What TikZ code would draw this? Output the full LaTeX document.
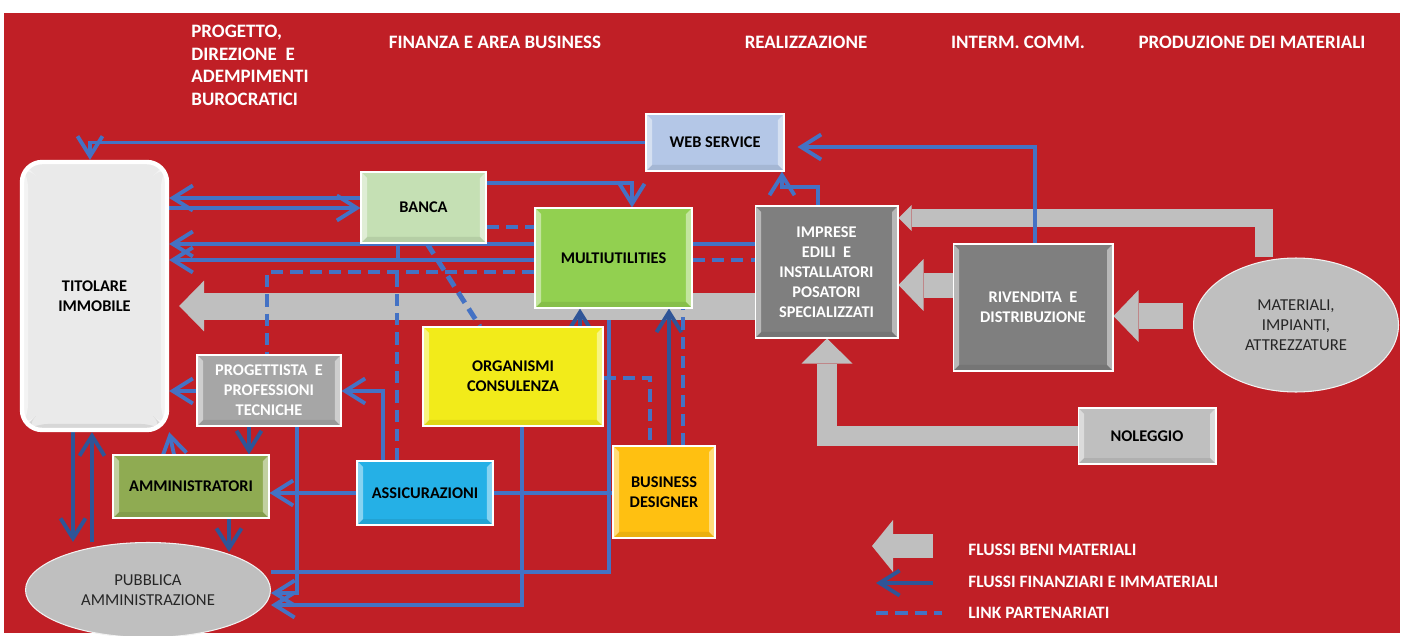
\documentclass[tikz,border=0pt]{standalone}
\usepackage{fontspec}
\setmainfont{Carlito}
\usetikzlibrary{arrows.meta, calc, shapes.geometric}
\usepackage{xcolor}

\definecolor{bgred}{RGB}{192,31,38}
\definecolor{flow}{RGB}{68,114,196}
\definecolor{flowdk}{RGB}{47,85,151}
\definecolor{beni}{RGB}{191,191,191}
\definecolor{txtgray}{RGB}{38,38,38}
\definecolor{cweb}{RGB}{180,199,231}
\definecolor{cbanca}{RGB}{197,224,180}
\definecolor{cmulti}{RGB}{146,208,80}
\definecolor{cimpr}{RGB}{127,127,127}
\definecolor{cprog}{RGB}{166,166,166}
\definecolor{corg}{RGB}{242,235,26}
\definecolor{camm}{RGB}{143,171,82}
\definecolor{cass}{RGB}{37,176,230}
\definecolor{cbus}{RGB}{255,192,17}
\definecolor{ctit}{RGB}{234,234,234}

\pgfdeclarelayer{bg}
\pgfdeclarelayer{back}
\pgfsetlayers{bg,back,main}

\tikzset{
  bevel/.style={path picture={
    \fill[white,opacity=.45] (path picture bounding box.north west) -- ++(6,6)
      -- ($(path picture bounding box.south west)+(6,-6)$) -- (path picture bounding box.south west) -- cycle;
    \fill[white,opacity=.45] (path picture bounding box.north east) -- ++(-6,6)
      -- ($(path picture bounding box.south east)+(-6,-6)$) -- (path picture bounding box.south east) -- cycle;
    \fill[black,opacity=.08] (path picture bounding box.south west) -- ++(6,-6)
      -- ($(path picture bounding box.south east)+(-6,-6)$) -- (path picture bounding box.south east) -- cycle;
  }}
}

\begin{document}
\begin{tikzpicture}[
  x={(0.02cm,0)}, y={(0,-0.02cm)},
  box/.style   = {draw=white!70, line width=0.6pt, inner sep=2pt, align=center,
                  text=black, font=\fontsize{9.3}{11.4}\selectfont\bfseries, bevel},
  oval/.style  = {ellipse, draw=white!80!beni, line width=0.6pt, fill=beni, inner sep=0pt,
                  align=center, text=txtgray, font=\fontsize{9.5}{11.4}\selectfont},
  hdr/.style   = {text=white, inner sep=0pt, font=\fontsize{10.8}{12.8}\selectfont\bfseries},
  lgd/.style   = {text=white, inner sep=0pt, anchor=west, font=\fontsize{9.9}{12}\selectfont\bfseries},
  fin/.style   = {draw=flow, line width=2.2pt},
  arr/.style   = {fin, -{Straight Barb[length=0.4cm, width=0.5cm]}},
  arrd/.style  = {arr, draw=flowdk},
  link/.style  = {draw=flow, line width=2.8pt, dash pattern=on 7pt off 4pt},
  bene/.style n args = {3}{draw=beni, line width=#1,
                  -{Triangle[length=#2, width=#3, line width=0pt]}},
]
\useasboundingbox (0,0) rectangle (1405,635);
\begin{pgfonlayer}{bg}
  \fill[bgred] (4,13) rectangle (1400,633);
\end{pgfonlayer}

% ── Column headers ───────────────────────────────────────────────────────────
\node[hdr, anchor=north west, align=left] (hprog) at (191,25)
  {PROGETTO,\\DIREZIONE\ \ E\\ADEMPIMENTI\\BUROCRATICI};
\node[hdr] (hfin)  at (495,42)  {FINANZA E AREA BUSINESS};
\node[hdr] (hreal) at (806,42)  {REALIZZAZIONE};
\node[hdr] (hint)  at (1018,42) {INTERM. COMM.};
\node[hdr] (hprod) at (1252,42) {PRODUZIONE DEI MATERIALI};

% ── Actors ───────────────────────────────────────────────────────────────────
\node[box, fill=ctit, draw=white, line width=2.5pt, rounded corners=0.4cm,
      minimum width=2.9cm, minimum height=5.36cm] (titolare) at (94.5,296) {TITOLARE\\IMMOBILE};
\node[box, fill=cweb,   minimum width=2.76cm, minimum height=1.14cm] (webserv)  at (715,142.5)  {WEB SERVICE};
\node[box, fill=cbanca, minimum width=2.5cm,  minimum height=1.42cm] (banca)    at (423.5,207.5){BANCA};
\node[box, fill=cmulti, minimum width=3.14cm, minimum height=2cm]    (multi)    at (613.5,258)  {MULTIUTILITIES};
\node[box, fill=cimpr, text=white, minimum width=2.86cm, minimum height=2.64cm] (imprese) at (826.5,272)
  {IMPRESE\\EDILI\ \ E\\INSTALLATORI\\POSATORI\\SPECIALIZZATI};
\node[box, fill=cimpr, text=white, minimum width=3.2cm, minimum height=2.54cm] (rivendita) at (1033,307.5)
  {RIVENDITA\ \ E\\DISTRIBUZIONE};
\node[oval, minimum width=4.1cm, minimum height=2.68cm] (materiali) at (1296,325)
  {MATERIALI,\\IMPIANTI,\\ATTREZZATURE};
\node[box, fill=beni, minimum width=2.76cm, minimum height=1.12cm] (noleggio) at (1147,436) {NOLEGGIO};
\node[box, fill=cprog, text=white, minimum width=2.88cm, minimum height=1.42cm] (progettista) at (269,390.5)
  {PROGETTISTA\ \ E\\PROFESSIONI\\TECNICHE};
\node[box, fill=corg, minimum width=3.6cm,  minimum height=1.98cm] (organismi) at (513,376.5) {ORGANISMI\\CONSULENZA};
\node[box, fill=camm, minimum width=3.12cm, minimum height=1.26cm] (amministratori) at (191,486.5) {AMMINISTRATORI};
\node[box, fill=cass, minimum width=2.72cm, minimum height=1.28cm] (assicurazioni) at (425,493) {ASSICURAZIONI};
\node[box, fill=cbus, minimum width=2.04cm, minimum height=1.84cm] (business) at (664,492) {BUSINESS\\DESIGNER};
\node[oval, minimum width=4.9cm, minimum height=1.9cm] (pubblica) at (148,590) {PUBBLICA\\AMMINISTRAZIONE};

% ── Legend ───────────────────────────────────────────────────────────────────
\coordinate (lb1) at (933,546);  \coordinate (lb2) at (872,546);
\coordinate (lf1) at (933,583);  \coordinate (lf2) at (876,583);
\coordinate (ll1) at (876,613);  \coordinate (ll2) at (942,613);
\node[lgd] (tbeni) at (968,550) {FLUSSI BENI MATERIALI};
\node[lgd] (tfin)  at (968,582) {FLUSSI FINANZIARI E IMMATERIALI};
\node[lgd] (tlink) at (968,613) {LINK PARTENARIATI};

\begin{pgfonlayer}{back}
% ── Material flows (grey) ────────────────────────────────────────────────────
\draw[fin] (multi.south -| 609,0) |- (pubblica.east |- 0,572);
\draw[bene={0.54cm}{0.5cm}{1.02cm}, shorten >=0.2cm] (imprese.west |- 0,306) -- (titolare.east |- 0,306);
\draw[bene={0.37cm}{0.26cm}{0.52cm}] (materiali.north -| 1264,0) |- (imprese.east |- 0,218);
\draw[bene={0.5cm}{0.5cm}{1.04cm}] (rivendita.west |- 0,285) -- (imprese.east |- 0,285);
\draw[bene={0.52cm}{0.5cm}{1.04cm}, shorten <=0.2cm] (materiali.west |- 0,316) -- (rivendita.east |- 0,316);
\draw[bene={0.4cm}{0.5cm}{1.02cm}] (noleggio.west) -| (imprese.south -| 827,0);
\draw[bene={0.48cm}{0.42cm}{1.04cm}] (lb1) -- (lb2);

% ── Financial / immaterial flows ─────────────────────────────────────────────
\draw[arr] (webserv.west) -| (titolare.north -| 90,0);
\draw[arr] (rivendita.north -| 1035,0) |- ($(webserv.east)+(13,4.5)$);
\draw[arr] (imprese.north -| 818,0) |- (782,187) -- (webserv.south -| 782,0);
\draw[arr] (banca.west |- 0,198) -- (titolare.east |- 0,198);
\draw[arr] (titolare.east |- 0,208) -- (banca.west |- 0,208);
\draw[arr] (banca.east |- 0,183) -| (multi.north -| 632,0);
\draw[arr] (imprese.west |- 0,244) -- (titolare.east |- 0,244);
\draw[arr] (multi.west |- 0,260) -- (titolare.east |- 0,260);
\draw[fin] (banca.south -| 398,0) -- (398,260);
\draw[arrd] (organismi.north -| 580,0) -- (multi.south -| 580,0);
\draw[arrd] (business.north -| 669,0) -- (multi.south -| 669,0);
\draw[fin] (business.west |- 0,493) -- (assicurazioni.east);
\draw[arr] (assicurazioni.west) -- (amministratori.east |- assicurazioni.west);
\draw[arr] (organismi.south -| 522,0) |- (pubblica.east |- 0,605);
\draw[arr] (assicurazioni.north -| 383,0) |- (progettista.east |- 0,391);
\draw[arr] (progettista.west |- 0,391) -- (titolare.east |- 0,391);
\draw[arrd] (progettista.south -| 249,0) -- (amministratori.north -| 249,0);
\draw[arr] (amministratori.north -| 174,0) -- (titolare.south east);
\draw[arr] (progettista.south -| 297,0) |- (pubblica.east |- 0,593);
\draw[arrd] (titolare.south -| 73,0) -- (pubblica.north -| 73,0);
\draw[arrd] (pubblica.north -| 92,0) -- (titolare.south -| 92,0);
\draw[arrd] (amministratori.south -| 229,0) -- (229,552);
\draw[arrd] (lf1) -- (lf2);

% ── Partnership links (dashed) ───────────────────────────────────────────────
\draw[link] (banca.east |- 0,227) -- (multi.west |- 0,227);
\draw[link] (multi.west |- 0,272) -| (progettista.north -| 267,0);
\draw[link] (assicurazioni.north -| 397,0) -- (397,272);
\draw[link] (banca.south -| 427,0) -- (organismi.north -| 480,0);
\draw[link] (multi.east |- 0,260) -- (imprese.west |- 0,260);
\draw[link] (organismi.east |- 0,378) -| (business.north -| 650,0);
\draw[link] (business.north -| 683,0) -- (multi.south -| 683,0);
\draw[link] (ll1) -- (ll2);
\end{pgfonlayer}
\end{tikzpicture}
\end{document}
